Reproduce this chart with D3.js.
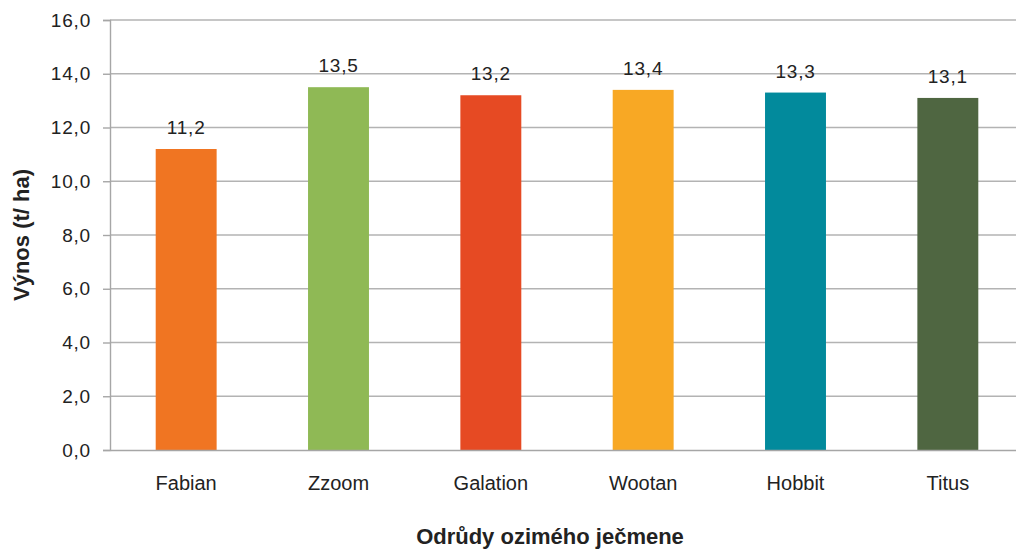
<!DOCTYPE html>
<html>
<head>
<meta charset="utf-8">
<script src="https://cdn.jsdelivr.net/npm/d3@7"></script>
<style>
  body { margin: 0; background: #fff; overflow: hidden; }
  svg { font-family: "Liberation Sans", Arial, sans-serif; display: block; }
  .y-axis .tick text { fill: #222; font-size: 19px; letter-spacing: 0.8px; }
  .x-axis .tick text { fill: #222; font-size: 20px; }
  .title { font-weight: bold; font-size: 22px; fill: #222; }
  .value { font-size: 19px; fill: #222; letter-spacing: 0.8px; }
</style>
</head>
<body>
<svg id="chart" width="1016" height="550"></svg>
<script>
const categories = ["Fabian", "Zzoom", "Galation", "Wootan", "Hobbit", "Titus"];
const yields = [11.2, 13.5, 13.2, 13.4, 13.3, 13.1];
const barColors = ["#f07522", "#8fb955", "#e64a23", "#f8a824", "#028a9c", "#4f6641"];
const yTicks = [0, 2, 4, 6, 8, 10, 12, 14, 16];

const svg = d3.select("#chart");
const plotLeft = 110, plotTop = 20, plotBottom = 450, plotRight = 1024;

const fmt = v => v.toFixed(1).replace(".", ",");

const x = d3.scaleBand()
    .domain(categories)
    .range([plotLeft, plotRight])
    .paddingInner(0.6)
    .paddingOuter(0.3);

const y = d3.scaleLinear()
    .domain([0, 16])
    .range([plotBottom, plotTop]);

// gridlines
svg.append("g")
    .selectAll("line")
    .data(yTicks.filter(d => d > 0))
    .enter()
    .append("line")
    .attr("x1", plotLeft)
    .attr("x2", 1016)
    .attr("y1", d => y(d))
    .attr("y2", d => y(d))
    .attr("stroke", "#b3b3b3")
    .attr("stroke-width", 1.4);

// bars
svg.append("g")
    .selectAll("rect")
    .data(categories)
    .enter()
    .append("rect")
    .attr("x", d => x(d))
    .attr("width", x.bandwidth())
    .attr("y", (d, i) => y(yields[i]))
    .attr("height", (d, i) => plotBottom - y(yields[i]))
    .attr("fill", (d, i) => barColors[i]);

// value labels
svg.append("g")
    .selectAll("text")
    .data(categories)
    .enter()
    .append("text")
    .attr("class", "value")
    .attr("x", d => x(d) + x.bandwidth() / 2)
    .attr("y", (d, i) => y(yields[i]) - 15)
    .attr("text-anchor", "middle")
    .text((d, i) => fmt(yields[i]));

// y axis
const yAxis = svg.append("g")
    .attr("class", "y-axis")
    .attr("transform", `translate(${plotLeft},0)`)
    .call(d3.axisLeft(y).tickValues(yTicks).tickFormat(fmt).tickSize(7).tickPadding(12));
yAxis.select(".domain").attr("stroke", "#a6a6a6").attr("stroke-width", 1.4);
yAxis.selectAll(".tick line").attr("stroke", "#a6a6a6").attr("stroke-width", 1.4);

// x axis baseline
const xAxis = svg.append("g")
    .attr("class", "x-axis")
    .attr("transform", `translate(0,${plotBottom})`)
    .call(d3.axisBottom(x).tickSize(0).tickPadding(22));
xAxis.select(".domain").attr("stroke", "#a6a6a6").attr("stroke-width", 1.4);
xAxis.selectAll(".tick text").attr("dy", null).attr("y", 40);

// titles
svg.append("text")
    .attr("class", "title")
    .attr("transform", "translate(29,235) rotate(-90)")
    .attr("text-anchor", "middle")
    .text("Výnos (t/ ha)");

svg.append("text")
    .attr("class", "title")
    .attr("x", 550)
    .attr("y", 544)
    .attr("text-anchor", "middle")
    .text("Odrůdy ozimého ječmene");
</script>
</body>
</html>
